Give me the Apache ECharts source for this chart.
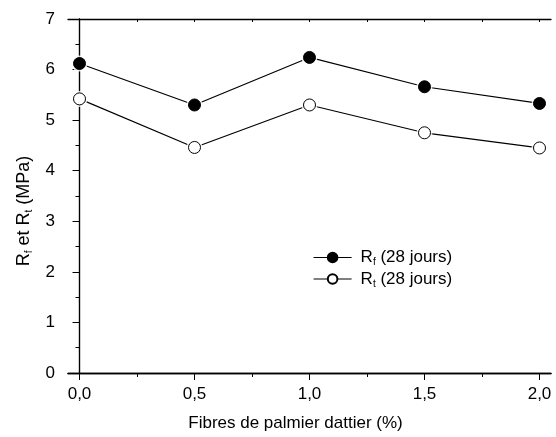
<!DOCTYPE html>
<html>
<head>
<meta charset="utf-8">
<script src="https://cdn.jsdelivr.net/npm/echarts@6/dist/echarts.min.js"></script>
<style>
  html, body { margin: 0; padding: 0; background: #fff; }
  #chart { width: 556px; height: 437px; }
</style>
</head>
<body>
<div id="chart"></div>
<script>
// fibre content (%) and strengths (MPa)
var fibres = [0, 0.5, 1.0, 1.5, 2.0];
var rf = [6.12, 5.30, 6.24, 5.66, 5.33];
var rt = [5.42, 4.46, 5.30, 4.75, 4.45];
var xMajor = [0, 0.5, 1.0, 1.5, 2.0];
var xMinor = [0.25, 0.75, 1.25, 1.75];

var font = "Liberation Sans, Arial, sans-serif";

function pairs(ys) {
  return fibres.map(function (x, i) { return [x, ys[i]]; });
}

var legendRich = {
  a: { fontFamily: font, fontSize: 17, color: "#000" },
  s: { fontFamily: font, fontSize: 10, color: "#000", padding: [10, 0, 0, 0] }
};
var nameRich = {
  a: { fontFamily: font, fontSize: 18, color: "#000" },
  s: { fontFamily: font, fontSize: 10, color: "#000", padding: [11, 0, 0, 0] }
};

var myChart = echarts.init(document.getElementById("chart"));

var baseX = {
  type: "value",
  min: -0.05,
  max: 2.05,
  splitLine: { show: false },
  axisLine: { onZero: false, lineStyle: { color: "#000", width: 1.3 } }
};

var option = {
  animation: false,
  backgroundColor: "#fff",
  grid: { left: 68, right: 5, top: 19, bottom: 61 },
  legend: {
    orient: "vertical",
    left: 308,
    top: 244,
    itemWidth: 38,
    itemHeight: 12,
    itemGap: 3,
    data: ["Rf", "Rt"],
    lineStyle: { color: "#000", width: 1.2, opacity: 1 },
    formatter: function (name) {
      return "{a|R}{s|" + name.slice(1) + "}{a| (28 jours)}";
    },
    textStyle: { rich: legendRich, padding: [0, 0, 0, 4] }
  },
  xAxis: [
    Object.assign({}, baseX, {
      position: "bottom",
      name: "Fibres de palmier dattier (%)",
      nameLocation: "middle",
      nameGap: 42,
      nameTextStyle: { fontFamily: font, fontSize: 17, color: "#000", padding: [0, 28, 0, 0] },
      axisTick: { show: true, length: 7, customValues: xMajor, lineStyle: { color: "#000" } },
      axisLabel: {
        customValues: xMajor,
        margin: 13,
        fontFamily: font, fontSize: 17, color: "#000",
        formatter: function (v) { return v.toFixed(1).replace(".", ","); }
      }
    }),
    Object.assign({}, baseX, {
      position: "bottom",
      axisTick: { show: true, length: 4, customValues: xMinor, lineStyle: { color: "#000" } },
      axisLabel: { show: false }
    }),
    Object.assign({}, baseX, {
      position: "top",
      axisTick: { show: true, inside: true, length: 3, customValues: xMajor.concat(xMinor), lineStyle: { color: "#000" } },
      axisLabel: { show: false }
    })
  ],
  yAxis: [
    {
      type: "value",
      position: "left",
      min: 0, max: 7, interval: 1,
      name: "{a|R}{s|f}{a| et R}{s|t}{a| (MPa)}",
      nameLocation: "middle",
      nameGap: 33,
      nameTextStyle: { rich: nameRich, padding: [0, 30, 0, 0] },
      splitLine: { show: false },
      axisLine: { lineStyle: { color: "#000", width: 1.3 } },
      axisTick: { length: 7, lineStyle: { color: "#000" } },
      minorTick: { show: true, splitNumber: 2, length: 4, lineStyle: { color: "#000" } },
      axisLabel: { margin: 13, fontFamily: font, fontSize: 17, color: "#000" }
    },
    {
      type: "value",
      position: "right",
      min: 0, max: 7, interval: 1,
      splitLine: { show: false },
      axisLine: { show: true, lineStyle: { color: "#000", width: 1.1 } },
      axisTick: { show: true, inside: true, length: 3, lineStyle: { color: "#000" } },
      minorTick: { show: true, splitNumber: 2, length: 3, lineStyle: { color: "#000" } },
      axisLabel: { show: false }
    }
  ],
  series: [
    // markers (legend entries), line hidden so the white halo can sit between
    {
      name: "Rf",
      type: "line",
      z: 4,
      data: pairs(rf),
      symbol: "circle",
      symbolSize: 12,
      lineStyle: { color: "#000", width: 1.2, opacity: 0 },
      itemStyle: { color: "#000", borderColor: "#000", borderWidth: 1 }
    },
    {
      name: "Rt",
      type: "line",
      z: 4,
      data: pairs(rt),
      symbol: "circle",
      symbolSize: 12,
      lineStyle: { color: "#000", width: 1.2, opacity: 0 },
      itemStyle: { color: "#fff", borderColor: "#000", borderWidth: 1 }
    },
    // connecting lines
    {
      name: "Rf line",
      type: "line",
      z: 1,
      silent: true,
      data: pairs(rf),
      symbol: "none",
      lineStyle: { color: "#000", width: 1.2 }
    },
    {
      name: "Rt line",
      type: "line",
      z: 1,
      silent: true,
      data: pairs(rt),
      symbol: "none",
      lineStyle: { color: "#000", width: 1.2 }
    },
    // white halo around markers
    {
      name: "halo",
      type: "scatter",
      z: 2,
      silent: true,
      data: pairs(rf).concat(pairs(rt)),
      symbol: "circle",
      symbolSize: 16,
      itemStyle: { color: "#fff" }
    }
  ]
};

myChart.setOption(option);
</script>
</body>
</html>
